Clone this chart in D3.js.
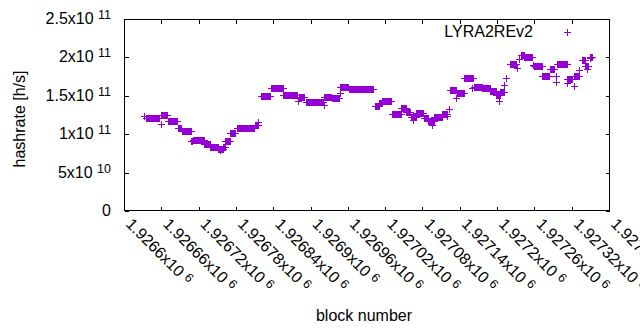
<!DOCTYPE html>
<html>
<head>
<meta charset="utf-8">
<script src="https://cdn.jsdelivr.net/npm/d3@7"></script>
<style>
  body { margin: 0; background: #fff; }
  svg { display: block; }
  text { font-family: "Liberation Sans", Arial, sans-serif; font-size: 16px; fill: #000; }
</style>
</head>
<body>
<div id="chart"></div>
<script>
// block number domain and tick labels (gnuplot style, every 60 blocks)
const xDomain = [1926600, 1927380];
const xTicks = [1926600, 1926660, 1926720, 1926780, 1926840, 1926900, 1926960,
                1927020, 1927080, 1927140, 1927200, 1927260, 1927320, 1927380];
const yDomain = [0, 2.5e11];
const yTicks = [0, 5e10, 1e11, 1.5e11, 2e11, 2.5e11];
const seriesName = 'LYRA2REv2';

// hashrate, run-length encoded:
// [first block, last block, hashrate] (value holds for every block in the run)
const lyraRuns = [
    [1926632, 1926632, 1.240e11],
    [1926635, 1926657, 1.207e11],
    [1926659, 1926659, 1.128e11],
    [1926660, 1926669, 1.250e11],
    [1926671, 1926686, 1.176e11],
    [1926687, 1926692, 1.085e11],
    [1926693, 1926707, 1.037e11],
    [1926707, 1926710, 0.905e11],
    [1926711, 1926729, 0.929e11],
    [1926729, 1926738, 0.877e11],
    [1926738, 1926751, 0.833e11],
    [1926751, 1926759, 0.807e11],
    [1926755, 1926755, 0.790e11],
    [1926759, 1926763, 0.838e11],
    [1926763, 1926770, 0.911e11],
    [1926771, 1926779, 1.011e11],
    [1926782, 1926809, 1.076e11],
    [1926810, 1926815, 1.120e11],
    [1926816, 1926816, 1.154e11],
    [1926820, 1926834, 1.502e11],
    [1926836, 1926855, 1.597e11],
    [1926856, 1926879, 1.510e11],
    [1926880, 1926880, 1.432e11],
    [1926881, 1926889, 1.489e11],
    [1926892, 1926920, 1.415e11],
    [1926921, 1926921, 1.380e11],
    [1926922, 1926933, 1.489e11],
    [1926935, 1926946, 1.467e11],
    [1926947, 1926947, 1.532e11],
    [1926948, 1926961, 1.619e11],
    [1926962, 1927001, 1.584e11],
    [1927003, 1927010, 1.367e11],
    [1927010, 1927015, 1.402e11],
    [1927015, 1927030, 1.428e11],
    [1927031, 1927046, 1.259e11],
    [1927046, 1927053, 1.337e11],
    [1927053, 1927060, 1.293e11],
    [1927061, 1927069, 1.228e11],
    [1927065, 1927065, 1.190e11],
    [1927070, 1927081, 1.272e11],
    [1927082, 1927089, 1.215e11],
    [1927089, 1927098, 1.172e11],
    [1927096, 1927096, 1.120e11],
    [1927099, 1927112, 1.224e11],
    [1927112, 1927120, 1.267e11],
    [1927119, 1927119, 1.240e11],
    [1927122, 1927122, 1.324e11],
    [1927124, 1927134, 1.575e11],
    [1927134, 1927134, 1.467e11],
    [1927136, 1927147, 1.532e11],
    [1927147, 1927162, 1.727e11],
    [1927159, 1927159, 1.597e11],
    [1927163, 1927176, 1.619e11],
    [1927176, 1927189, 1.597e11],
    [1927189, 1927199, 1.562e11],
    [1927199, 1927204, 1.510e11],
    [1927203, 1927203, 1.432e11],
    [1927205, 1927211, 1.554e11],
    [1927211, 1927211, 1.641e11],
    [1927215, 1927215, 1.727e11],
    [1927220, 1927230, 1.910e11],
    [1927232, 1927232, 1.866e11],
    [1927235, 1927235, 1.979e11],
    [1927239, 1927243, 2.031e11],
    [1927243, 1927256, 2.001e11],
    [1927258, 1927258, 1.901e11],
    [1927260, 1927272, 1.892e11],
    [1927272, 1927283, 1.762e11],
    [1927285, 1927291, 1.849e11],
    [1927294, 1927294, 1.762e11],
    [1927295, 1927295, 1.675e11],
    [1927297, 1927312, 1.910e11],
    [1927312, 1927312, 1.662e11],
    [1927313, 1927321, 1.714e11],
    [1927323, 1927323, 1.632e11],
    [1927324, 1927332, 1.758e11],
    [1927332, 1927332, 1.836e11],
    [1927336, 1927342, 1.966e11],
    [1927342, 1927346, 1.892e11],
    [1927344, 1927344, 1.849e11],
    [1927349, 1927349, 1.996e11],
    [1927350, 1927353, 2.009e11]
];

const width = 640, height = 330;
const margin = { left: 124, right: 31, top: 19, bottom: 119 };
const color = '#9400d3';

const svg = d3.select('#chart').append('svg')
    .attr('width', width)
    .attr('height', height);

const x = d3.scaleLinear().domain(xDomain).range([margin.left, width - margin.right]);
const y = d3.scaleLinear().domain(yDomain).range([height - margin.bottom, margin.top]);

// gnuplot-ish "%h" formatting: mantissa x10^exp
function sciParts(v) {
    if (v === 0) return ['0', null];
    const e = Math.floor(Math.log10(v));
    const m = +(v / Math.pow(10, e)).toFixed(5);
    return [`${m}x10\u00a0`, String(e)];
}

// expand runs to one point per block
const points = [];
lyraRuns.forEach(([b0, b1, v]) => {
    for (let b = b0; b <= b1; b++) points.push({ block: b, rate: v });
});

// points as "+" marks
const plusPath = d => {
    const cx = Math.round(x(d.block)), cy = Math.round(y(d.rate));
    return `M${cx - 3},${cy + 0.5}h7M${cx + 0.5},${cy - 3}v7`;
};

svg.append('path')
    .attr('d', points.map(plusPath).join(''))
    .attr('fill', 'none')
    .attr('stroke', color)
    .attr('stroke-width', 1)
    .attr('shape-rendering', 'crispEdges');

// border
const x0 = margin.left + 0.5, x1 = width - margin.right + 0.5;
const y0 = margin.top + 0.5, y1 = height - margin.bottom - 0.5;
svg.append('rect')
    .attr('x', x0).attr('y', y0)
    .attr('width', x1 - x0).attr('height', y1 - y0)
    .attr('fill', 'none')
    .attr('stroke', '#000')
    .attr('shape-rendering', 'crispEdges');

// ticks (mirrored, inward)
const tickLen = 4;
const ticks = svg.append('g')
    .attr('stroke', '#000')
    .attr('shape-rendering', 'crispEdges');

yTicks.forEach(t => {
    const ty = Math.round(y(t)) + 0.5;
    ticks.append('line').attr('x1', x0).attr('x2', x0 + tickLen).attr('y1', ty).attr('y2', ty);
    ticks.append('line').attr('x1', x1).attr('x2', x1 - tickLen).attr('y1', ty).attr('y2', ty);
});
xTicks.forEach(t => {
    const tx = Math.round(x(t)) + 0.5;
    ticks.append('line').attr('x1', tx).attr('x2', tx).attr('y1', y1).attr('y2', y1 - tickLen);
    ticks.append('line').attr('x1', tx).attr('x2', tx).attr('y1', y0).attr('y2', y0 + tickLen);
});

// y tick labels
yTicks.forEach(t => {
    const [main, sup] = sciParts(t);
    const label = svg.append('text')
        .attr('x', 111)
        .attr('y', y(t) + 5)
        .attr('text-anchor', 'end');
    label.append('tspan').text(main);
    if (sup) {
        label.append('tspan')
            .attr('dy', -5)
            .style('font-size', '12.5px')
            .text(sup);
    }
});

// x tick labels, rotated
xTicks.forEach(t => {
    const [main, sup] = sciParts(t);
    const label = svg.append('text')
        .attr('transform', `translate(${x(t) + 1},${height - margin.bottom + 14}) rotate(45)`);
    label.append('tspan').text(main);
    if (sup) {
        label.append('tspan')
            .attr('dy', -4)
            .style('font-size', '12.5px')
            .text(sup);
    }
});

// axis titles
svg.append('text')
    .attr('transform', 'translate(25,119) rotate(-90)')
    .attr('text-anchor', 'middle')
    .text('hashrate [h/s]');

svg.append('text')
    .attr('x', 364)
    .attr('y', 321)
    .attr('text-anchor', 'middle')
    .text('block number');

// legend
svg.append('text')
    .attr('x', 533)
    .attr('y', 37)
    .attr('text-anchor', 'end')
    .text(seriesName);

svg.append('path')
    .attr('d', `M${567 - 3},${32.5}h7M${567.5},${32 - 3}v7`)
    .attr('stroke', color)
    .attr('shape-rendering', 'crispEdges');
</script>
</body>
</html>
